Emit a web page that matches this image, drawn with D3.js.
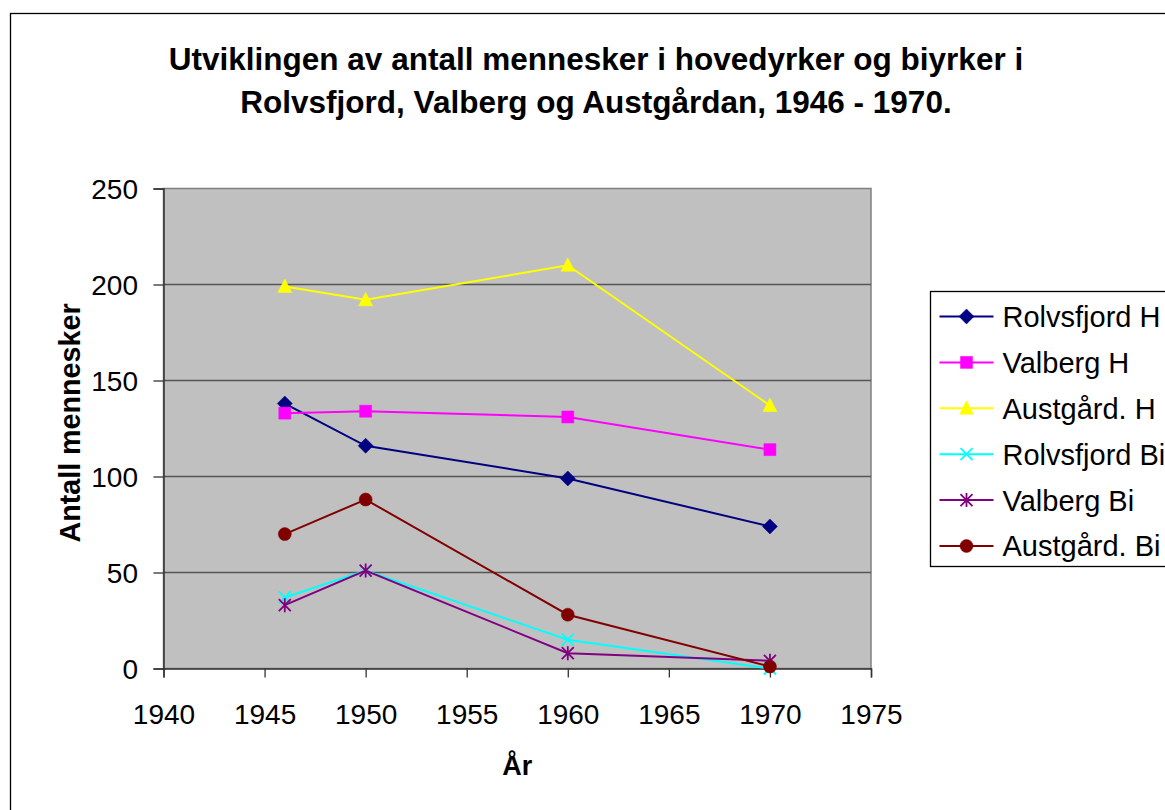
<!DOCTYPE html>
<html>
<head>
<meta charset="utf-8">
<script src="https://cdn.jsdelivr.net/npm/d3@7"></script>
<style>
  body { margin: 0; background: #fff; }
  svg { display: block; font-family: "Liberation Sans", Arial, sans-serif; }
</style>
</head>
<body>
<div id="chart"></div>
<script>
// data
const years = [1946, 1950, 1960, 1970];
const rolvsfjordH = [138, 116, 99, 74];
const valbergH = [133, 134, 131, 114];
const austgardH = [199, 192, 210, 137];
const rolvsfjordBi = [37, 51, 15, 0];
const valbergBi = [33, 51, 8, 4];
const austgardBi = [70, 88, 28, 1];

const seriesNames = ["Rolvsfjord H", "Valberg H", "Austgård. H", "Rolvsfjord Bi", "Valberg Bi", "Austgård. Bi"];
const xTicks = [1940, 1945, 1950, 1955, 1960, 1965, 1970, 1975];
const yTicks = [0, 50, 100, 150, 200, 250];

const series = [
    {name: seriesNames[0], values: rolvsfjordH, color: "#000080", marker: "diamond"},
    {name: seriesNames[1], values: valbergH, color: "#ff00ff", marker: "square"},
    {name: seriesNames[2], values: austgardH, color: "#ffff00", marker: "triangle"},
    {name: seriesNames[3], values: rolvsfjordBi, color: "#00ffff", marker: "x"},
    {name: seriesNames[4], values: valbergBi, color: "#800080", marker: "star"},
    {name: seriesNames[5], values: austgardBi, color: "#800000", marker: "circle"}
];

const W = 1165, H = 810;
const plot = {left: 163.5, right: 871, top: 188.5, bottom: 668.5};

const svg = d3.select("#chart").append("svg")
    .attr("width", W)
    .attr("height", H);

// outer chart border
svg.append("rect")
    .attr("x", 10.5).attr("y", 13.5)
    .attr("width", 1200).attr("height", 900)
    .attr("fill", "none")
    .attr("stroke", "#000")
    .attr("stroke-width", 1.3);

const x = d3.scaleLinear().domain([1940, 1975]).range([plot.left, plot.right]);
const y = d3.scaleLinear().domain([0, 250]).range([plot.bottom, plot.top]);

// plot area
svg.append("rect")
    .attr("x", plot.left).attr("y", plot.top)
    .attr("width", plot.right - plot.left)
    .attr("height", plot.bottom - plot.top)
    .attr("fill", "#c0c0c0")
    .attr("stroke", "#808080")
    .attr("stroke-width", 1.5);

// gridlines
svg.append("g")
    .selectAll("line")
    .data(yTicks.filter(d => d > 0 && d < 250))
    .join("line")
    .attr("x1", plot.left).attr("x2", plot.right)
    .attr("y1", d => y(d)).attr("y2", d => y(d))
    .attr("stroke", "#555")
    .attr("stroke-width", 1.3);

// axes
const xAxis = svg.append("g")
    .attr("transform", `translate(0,${plot.bottom})`)
    .call(d3.axisBottom(x).tickValues(xTicks).tickFormat(d3.format("d")).tickSize(9).tickPadding(27));

const yAxis = svg.append("g")
    .attr("transform", `translate(${plot.left},0)`)
    .call(d3.axisLeft(y).tickValues(yTicks).tickSize(10).tickPadding(15.5));

[xAxis, yAxis].forEach(a => {
    a.select(".domain").attr("stroke", "#333").attr("stroke-width", 1.5);
    a.selectAll(".tick line").attr("stroke", "#333").attr("stroke-width", 1.3);
    a.selectAll("text")
        .attr("fill", "#000")
        .style("font-family", "'Liberation Sans', Arial, sans-serif")
        .style("font-size", "28px");
});
yAxis.selectAll("text").attr("dy", "0.36em");

// lines + markers
const line = d3.line()
    .x((d, i) => x(years[i]))
    .y(d => y(d));

function markerPath(type) {
    if (type === "diamond") return "M0,-7.5L7.5,0L0,7.5L-7.5,0Z";
    if (type === "square") return d3.symbol(d3.symbolSquare, 144)();
    if (type === "triangle") return "M0,-7.5L7,6L-7,6Z";
    if (type === "circle") return d3.symbol(d3.symbolCircle, Math.PI * 6.5 * 6.5)();
    if (type === "x") return "M-6,-6L6,6M-6,6L6,-6";
    if (type === "star") return "M-6,-6L6,6M-6,6L6,-6M0,-7L0,7";
}

function drawMarker(g, type, color) {
    const stroked = type === "x" || type === "star";
    g.append("path")
        .attr("d", markerPath(type))
        .attr("fill", stroked ? "none" : color)
        .attr("stroke", color)
        .attr("stroke-width", stroked ? 1.8 : 0.5);
}

const seriesG = svg.append("g")
    .selectAll("g")
    .data(series)
    .join("g");

seriesG.append("path")
    .attr("d", d => line(d.values))
    .attr("fill", "none")
    .attr("stroke", d => d.color)
    .attr("stroke-width", 2);

seriesG.each(function (s) {
    const g = d3.select(this);
    s.values.forEach((v, i) => {
        const m = g.append("g").attr("transform", `translate(${x(years[i])},${y(v)})`);
        drawMarker(m, s.marker, s.color);
    });
});

// title
const title = svg.append("text")
    .attr("text-anchor", "middle")
    .attr("font-weight", "bold")
    .attr("font-size", 31.5);
title.append("tspan").attr("x", 596).attr("y", 70).text("Utviklingen av antall mennesker i hovedyrker og biyrker i");
title.append("tspan").attr("x", 596).attr("y", 113).text("Rolvsfjord, Valberg og Austgårdan, 1946 - 1970.");

// axis titles
svg.append("text")
    .attr("x", x(1957.5)).attr("y", 775)
    .attr("text-anchor", "middle")
    .attr("font-weight", "bold")
    .attr("font-size", 27)
    .text("År");

svg.append("text")
    .attr("transform", `translate(70,423) rotate(-90)`)
    .attr("text-anchor", "middle")
    .attr("dy", "0.36em")
    .attr("font-weight", "bold")
    .attr("font-size", 28.7)
    .text("Antall mennesker");

// legend
const legend = svg.append("g").attr("transform", "translate(930.5,291.5)");
legend.append("rect")
    .attr("width", 300).attr("height", 275)
    .attr("fill", "#fff")
    .attr("stroke", "#000")
    .attr("stroke-width", 1.3);

const item = legend.selectAll("g.item")
    .data(series)
    .join("g")
    .attr("class", "item")
    .attr("transform", (d, i) => `translate(0,${25 + i * 45.9})`);

item.append("line")
    .attr("x1", 9).attr("x2", 63)
    .attr("stroke", d => d.color)
    .attr("stroke-width", 2);

item.each(function (s) {
    const m = d3.select(this).append("g").attr("transform", "translate(36,0)");
    drawMarker(m, s.marker, s.color);
});

item.append("text")
    .attr("x", 72)
    .attr("dy", "0.36em")
    .attr("font-size", 29)
    .text(d => d.name);
</script>
</body>
</html>
